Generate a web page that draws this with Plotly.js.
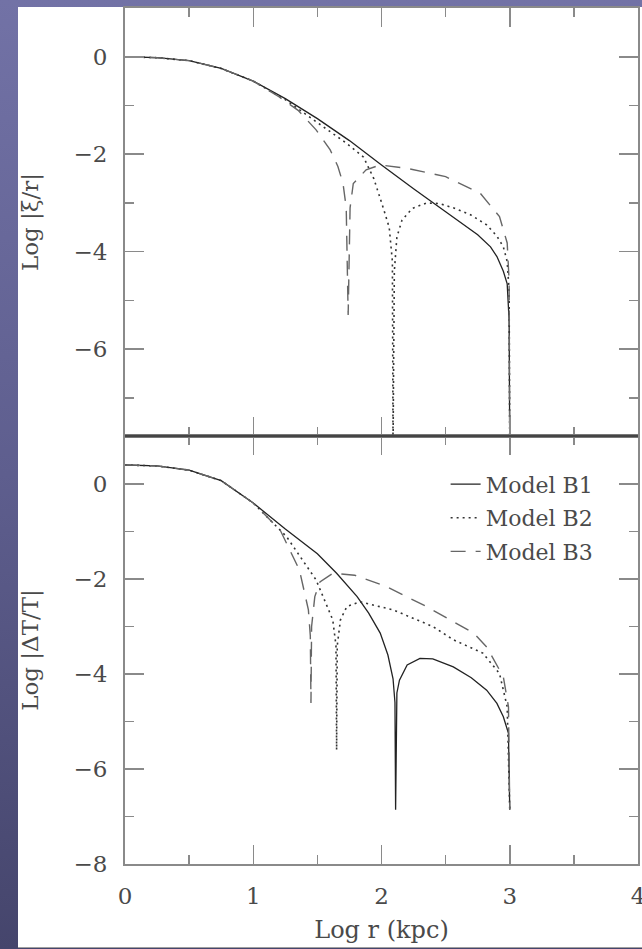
<!DOCTYPE html>
<html>
<head>
<meta charset="utf-8">
<script src="https://cdn.plot.ly/plotly-3.0.1.min.js"></script>
<style>
  html, body { margin: 0; padding: 0; width: 642px; height: 949px; overflow: hidden; }
  body { background: linear-gradient(to bottom, #7272a6 0%, #5e5e8e 50%, #45456c 100%); position: relative; }
  #paper { position: absolute; left: 18px; top: 7px; width: 624px; height: 940px; background: #ffffff; border-bottom: 1px solid #a0a0a0; }
  #chart { position: absolute; left: 0; top: 0; width: 642px; height: 949px; }
</style>
</head>
<body>
<div id="paper"></div>
<div id="chart"></div>
<script>
// ---- Data (Log r in kpc) ----
// Top panel: Log |xi/r|
const xiB1_x = [0, 0.25, 0.5, 0.75, 1.0, 1.25, 1.5, 1.75, 2.0, 2.25, 2.5, 2.75, 2.85, 2.9, 2.95, 2.98, 2.995, 3.0];
const xiB1_y = [0, -0.02, -0.08, -0.24, -0.5, -0.86, -1.27, -1.72, -2.22, -2.71, -3.18, -3.65, -3.9, -4.1, -4.4, -4.66, -5.4, -8];

const xiB2_x = [0, 0.25, 0.5, 0.75, 1.0, 1.25, 1.5, 1.73, 1.86, 1.94, 2.01, 2.06, 2.085, 2.09, 2.1, 2.12, 2.16, 2.24, 2.35, 2.45, 2.56, 2.7, 2.82, 2.9, 2.95, 2.98, 2.995, 3.0];
const xiB2_y = [0, -0.02, -0.08, -0.24, -0.5, -0.88, -1.35, -1.78, -2.06, -2.5, -3.07, -3.5, -4.2, -8, -4.4, -3.7, -3.35, -3.11, -3.0, -3.01, -3.1, -3.25, -3.45, -3.68, -3.9, -4.2, -4.8, -8];

const xiB3_x = [0, 0.25, 0.5, 0.75, 1.0, 1.2, 1.35, 1.49, 1.6, 1.66, 1.7, 1.725, 1.74, 1.755, 1.78, 1.88, 1.99, 2.2, 2.5, 2.77, 2.92, 2.98, 2.995, 3.0];
const xiB3_y = [0, -0.02, -0.08, -0.24, -0.5, -0.82, -1.1, -1.5, -1.91, -2.25, -2.6, -3.1, -5.3, -3.1, -2.6, -2.32, -2.22, -2.29, -2.46, -2.8, -3.28, -3.82, -4.6, -8];

// Bottom panel: Log |Delta T / T|
const dtB1_x = [0, 0.25, 0.5, 0.75, 1.0, 1.25, 1.5, 1.65, 1.81, 1.9, 1.99, 2.05, 2.09, 2.105, 2.11, 2.12, 2.14, 2.2, 2.3, 2.4, 2.56, 2.7, 2.82, 2.9, 2.95, 2.99, 3.0];
const dtB1_y = [0.4, 0.38, 0.29, 0.07, -0.4, -0.95, -1.47, -1.88, -2.37, -2.72, -3.14, -3.6, -4.1, -4.6, -6.86, -4.4, -4.13, -3.81, -3.67, -3.68, -3.85, -4.08, -4.34, -4.62, -4.9, -5.25, -6.86];

const dtB2_x = [0, 0.25, 0.5, 0.75, 1.0, 1.26, 1.49, 1.62, 1.645, 1.65, 1.655, 1.68, 1.73, 1.83, 2.09, 2.4, 2.56, 2.79, 2.92, 2.98, 3.0];
const dtB2_y = [0.4, 0.38, 0.29, 0.07, -0.4, -1.11, -2.02, -2.86, -3.4, -5.6, -3.4, -2.86, -2.58, -2.48, -2.65, -3.0, -3.28, -3.56, -3.99, -4.69, -6.86];

const dtB3_x = [0, 0.25, 0.5, 0.75, 1.0, 1.21, 1.36, 1.43, 1.445, 1.45, 1.455, 1.48, 1.52, 1.62, 1.79, 2.04, 2.35, 2.72, 2.82, 2.95, 2.99, 3.0];
const dtB3_y = [0.4, 0.38, 0.29, 0.07, -0.4, -0.97, -1.81, -2.65, -3.2, -4.61, -3.0, -2.37, -2.06, -1.88, -1.92, -2.16, -2.58, -3.14, -3.43, -4.06, -4.69, -6.86];

const seriesNames = ["Model B1", "Model B2", "Model B3"];
const xTicks = [0, 1, 2, 3, 4];
const yTitleTop = "Log |ξ/r|";
const yTitleBottom = "Log |ΔT/T|";
const xTitle = "Log r (kpc)";

// ---- Styles ----
const styles = [
  {color: "#222222", width: 1.3, dash: "solid"},
  {color: "#333333", width: 1.6, dash: "2px,4px"},
  {color: "#666666", width: 1.4, dash: "15px,10px"}
];
const FONT = "DejaVu Serif";
const TXT = "#4a4a4a";
const AX = "#8a8a8a";

function tr(x, y, i, xa, ya, show) {
  return {
    type: "scatter", mode: "lines", x: x, y: y,
    xaxis: xa, yaxis: ya, name: seriesNames[i], legendgroup: "g" + i,
    showlegend: show, line: styles[i], hoverinfo: "skip"
  };
}

const data = [
  tr(dtB1_x, dtB1_y, 0, "x", "y", true),
  tr(dtB2_x, dtB2_y, 1, "x", "y", true),
  tr(dtB3_x, dtB3_y, 2, "x", "y", true),
  tr(xiB1_x, xiB1_y, 0, "x2", "y2", false),
  tr(xiB2_x, xiB2_y, 1, "x2", "y2", false),
  tr(xiB3_x, xiB3_y, 2, "x2", "y2", false)
];

function xaxisBase(showLabels, anchor) {
  return {
    range: [0, 4], tickvals: xTicks, ticktext: xTicks.map(String),
    ticks: "inside", ticklen: 19, tickwidth: 1.5, tickcolor: AX,
    minor: {dtick: 0.5, tick0: 0, ticks: "inside", ticklen: 9, tickwidth: 1.5, tickcolor: AX},
    showline: true, linecolor: AX, linewidth: 2, mirror: "ticks",
    showgrid: false, zeroline: false, anchor: anchor,
    showticklabels: showLabels, ticklabelstandoff: 10, ticklabeloverflow: "allow",
    tickfont: {family: FONT, size: 23, color: TXT}
  };
}
function yaxisBase(range, domain, title) {
  return {
    range: range, domain: domain, dtick: 2, tick0: 0,
    ticks: "inside", ticklen: 19, tickwidth: 1.5, tickcolor: AX,
    minor: {dtick: 1, tick0: 0, ticks: "inside", ticklen: 9, tickwidth: 1.5, tickcolor: AX},
    showline: true, linecolor: AX, linewidth: 2, mirror: "ticks",
    showgrid: false, zeroline: false, ticklabelstandoff: 11,
    tickfont: {family: FONT, size: 23, color: TXT},
    title: {text: title, font: {family: FONT, size: 23, color: TXT}, standoff: 28}
  };
}

const xa = xaxisBase(true, "y");
xa.title = {text: xTitle, font: {family: FONT, size: 24, color: TXT}, standoff: 14};
const xa2 = xaxisBase(false, "y2");
xa2.matches = "x";

const layout = {
  width: 642, height: 949,
  margin: {l: 125, r: 4, t: 8, b: 85},
  paper_bgcolor: "rgba(0,0,0,0)",
  plot_bgcolor: "#ffffff",
  showlegend: true,
  legend: {
    x: 0.625, xanchor: "left", y: 0.468, yanchor: "top",
    bgcolor: "rgba(0,0,0,0)", tracegroupgap: 2,
    font: {family: FONT, size: 22, color: TXT}
  },
  xaxis: xa,
  xaxis2: xa2,
  yaxis: yaxisBase([-8, 1.01], [0, 0.5], yTitleBottom),
  yaxis2: yaxisBase([-7.78, 1.0], [0.5, 1], yTitleTop),
  shapes: [
    {type: "line", xref: "paper", yref: "paper", x0: 0, x1: 1, y0: 0.5, y1: 0.5,
     line: {color: "#444444", width: 2.5}, layer: "above"}
  ]
};

Plotly.newPlot("chart", data, layout, {staticPlot: true, displayModeBar: false});
</script>
</body>
</html>
